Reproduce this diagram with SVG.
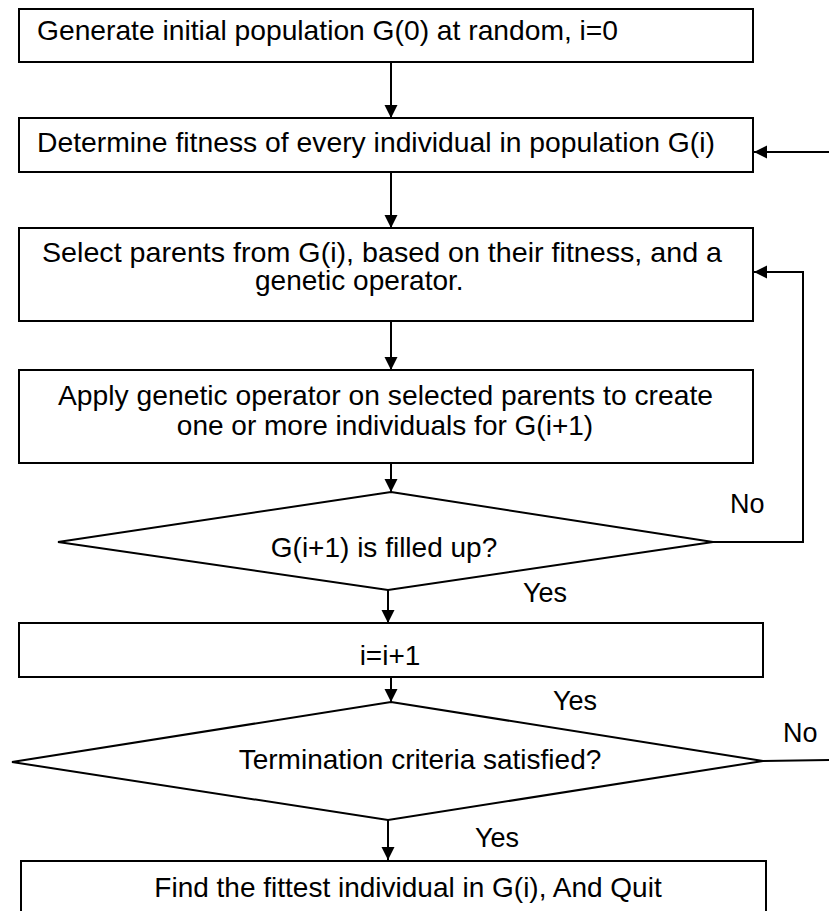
<svg xmlns="http://www.w3.org/2000/svg" width="829" height="911" viewBox="0 0 829 911">
  <defs>
    <marker id="arrow" markerUnits="userSpaceOnUse" markerWidth="14" markerHeight="14" refX="13" refY="6.5" orient="auto">
      <path d="M0,0 L13,6.5 L0,13 Z" fill="#000"/>
    </marker>
    <style>
      .box { fill: #fff; stroke: #000; stroke-width: 2; }
      .txt { font-family: "Liberation Sans", Arial, sans-serif; font-size: 28px; fill: #000; }
      .mid { text-anchor: middle; }
      .lbl { font-family: "Liberation Sans", Arial, sans-serif; font-size: 27px; fill: #000; }
      .edge { fill: none; stroke: #000; stroke-width: 2; }
      .arr { marker-end: url(#arrow); }
    </style>
  </defs>
  <rect width="829" height="911" fill="#fff"/>

  <!-- flow lines and branch labels -->
  <g id="connectors">
    <line class="edge arr" x1="391" y1="62" x2="391" y2="118"/>
    <polyline class="edge arr" points="829,152 754,152"/>
    <line class="edge arr" x1="391" y1="172" x2="391" y2="228"/>
    <line class="edge arr" x1="391" y1="321" x2="391" y2="370"/>
    <line class="edge arr" x1="391" y1="463" x2="391" y2="492"/>
    <polyline class="edge arr" points="713,542 803,542 803,272 754,272"/>
    <line class="edge arr" x1="388" y1="590" x2="388" y2="623"/>
    <line class="edge arr" x1="391" y1="677" x2="391" y2="702"/>
    <line class="edge" x1="763" y1="761" x2="829" y2="760"/>
    <line class="edge arr" x1="388" y1="820" x2="388" y2="860"/>
    <text class="lbl" x="730" y="513">No</text>
    <text class="lbl" x="523" y="602">Yes</text>
    <text class="lbl" x="553" y="710">Yes</text>
    <text class="lbl" x="783" y="742">No</text>
    <text class="lbl" x="475" y="847">Yes</text>
  </g>

  <g id="init">
    <rect class="box" x="19" y="9" width="734" height="53"/>
    <text class="txt" x="37" y="40" textLength="581" lengthAdjust="spacingAndGlyphs">Generate initial population G(0) at random, i=0</text>
  </g>

  <g id="fitness">
    <rect class="box" x="19" y="118" width="734" height="54"/>
    <text class="txt" x="37" y="152" textLength="678" lengthAdjust="spacingAndGlyphs">Determine fitness of every individual in population G(i)</text>
  </g>

  <g id="select">
    <rect class="box" x="19" y="228" width="734" height="93"/>
    <text class="txt" x="42" y="262" textLength="680" lengthAdjust="spacingAndGlyphs">Select parents from G(i), based on their fitness, and a</text>
    <text class="txt" x="255" y="290">genetic operator.</text>
  </g>

  <g id="apply">
    <rect class="box" x="19" y="370" width="734" height="93"/>
    <text class="txt" x="58" y="405" textLength="655" lengthAdjust="spacingAndGlyphs">Apply genetic operator on selected parents to create</text>
    <text class="txt mid" x="385" y="435">one or more individuals for G(i+1)</text>
  </g>

  <g id="filled">
    <polygon class="box" points="391,492 713,542 388,590 58,542"/>
    <text class="txt mid" x="384" y="557">G(i+1) is filled up?</text>
  </g>

  <g id="increment">
    <rect class="box" x="19" y="623" width="744" height="54"/>
    <text class="txt mid" x="390" y="665">i=i+1</text>
  </g>

  <g id="terminate">
    <polygon class="box" points="391,702 763,761 388,820 12,762"/>
    <text class="txt mid" x="420" y="769">Termination criteria satisfied?</text>
  </g>

  <g id="quit">
    <rect class="box" x="21" y="861" width="745" height="60"/>
    <text class="txt mid" x="408" y="897">Find the fittest individual in G(i), And Quit</text>
  </g>
</svg>
